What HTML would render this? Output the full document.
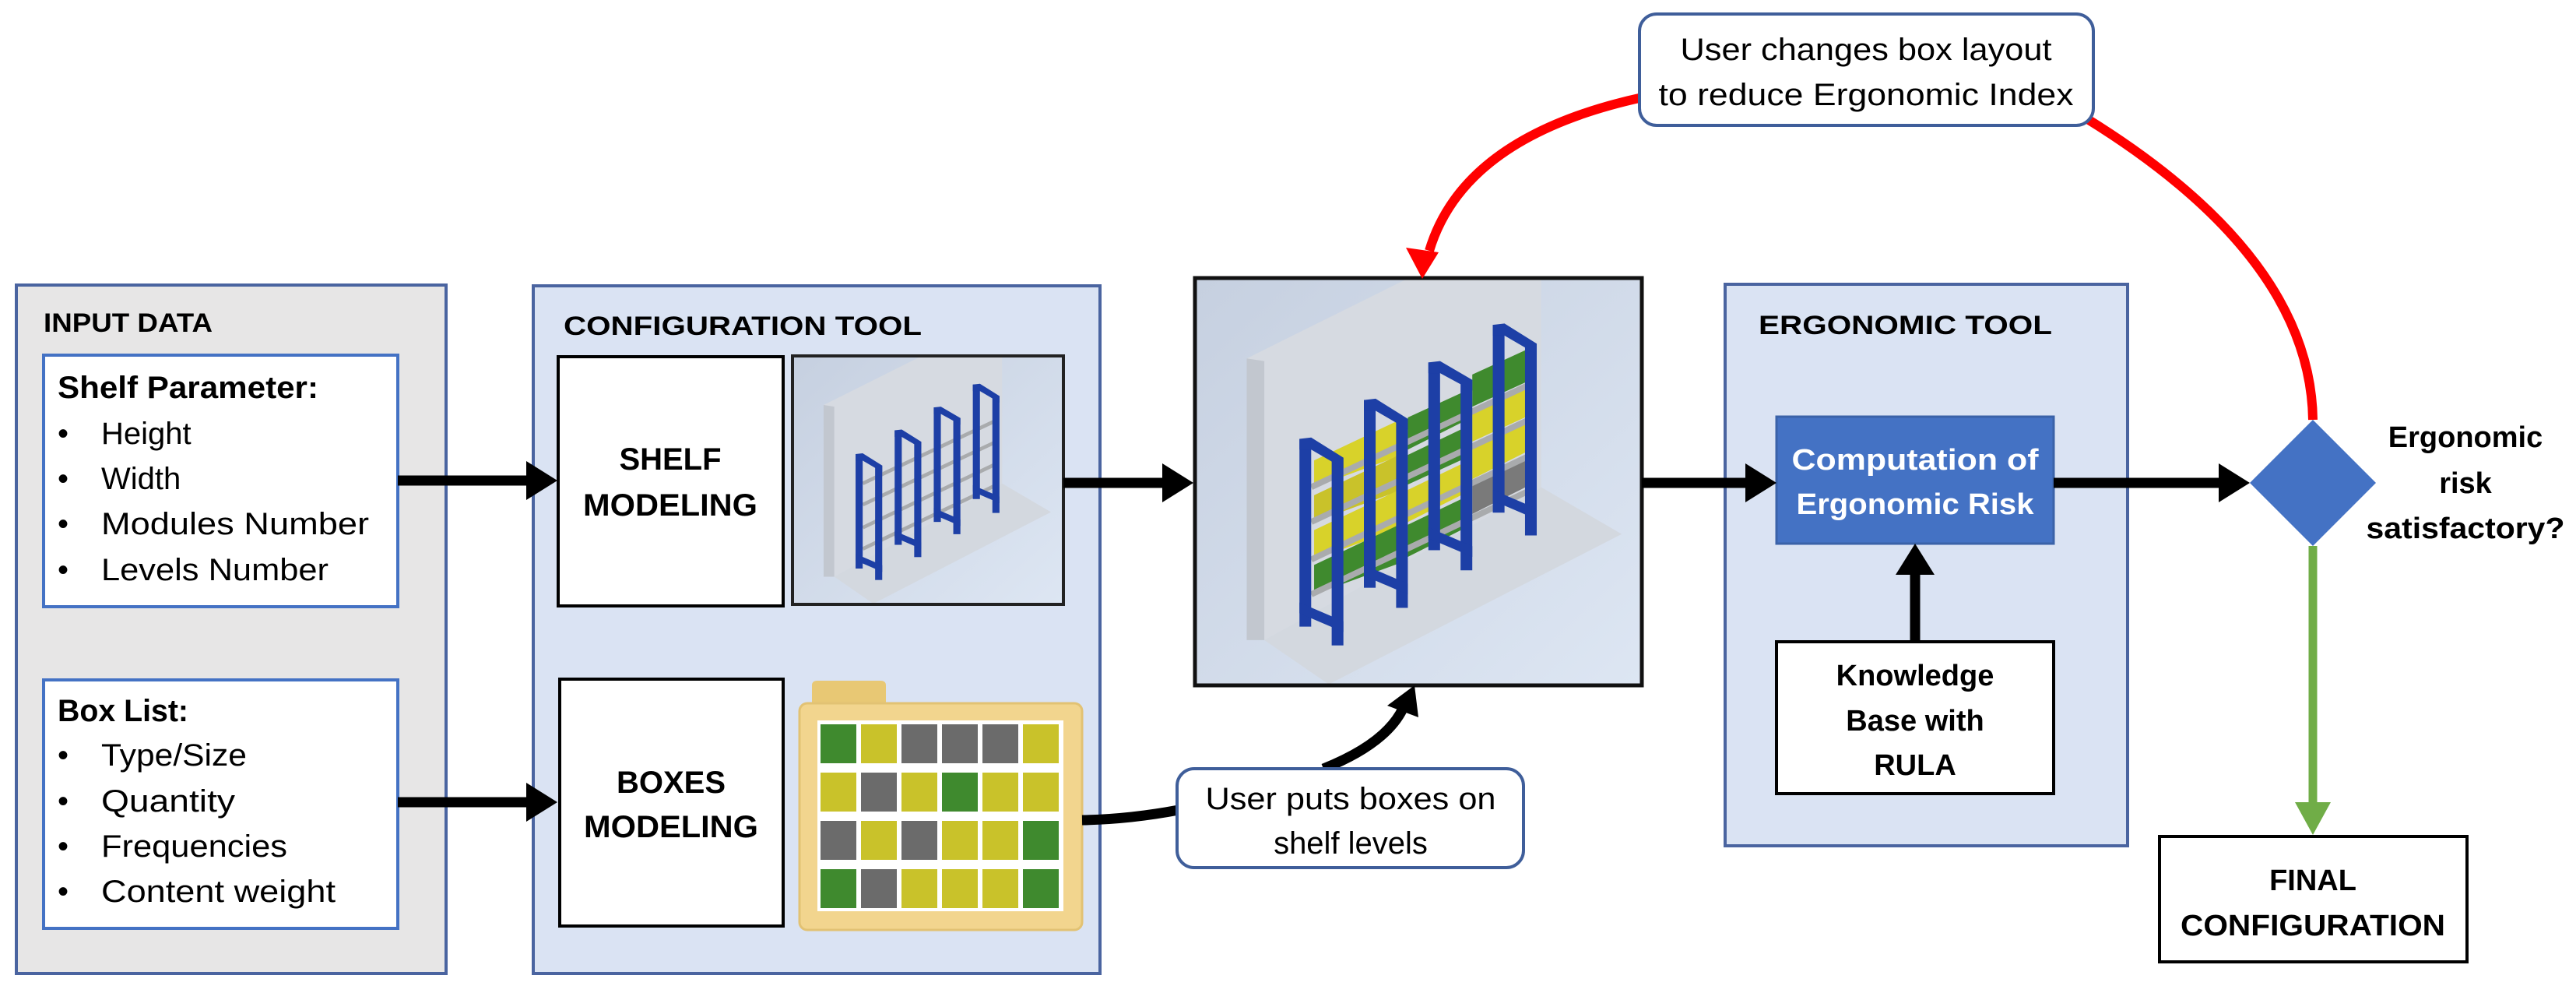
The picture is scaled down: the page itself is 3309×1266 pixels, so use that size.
<!DOCTYPE html>
<html><head><meta charset="utf-8"><style>html,body{margin:0;padding:0;background:#fff}svg{display:block}text{font-family:"Liberation Sans",Arial,sans-serif}</style></head>
<body>
<svg width="3309" height="1266" viewBox="0 0 3309 1266" xmlns="http://www.w3.org/2000/svg">
<defs>
<linearGradient id="bg" x1="0" y1="0" x2="1" y2="1"><stop offset="0" stop-color="#c6d0e0"/><stop offset="1" stop-color="#dde6f3"/></linearGradient>
<g id="scene">
<rect x="15" y="20" width="1525" height="1520" fill="url(#bg)"/>
<polygon points="250,1370 1195,800 1470,975 470,1535" fill="#d3d8df"/>
<polygon points="190,320 740,22 1195,22 1195,800 250,1370 190,1370" fill="#d6dae1"/>
<polygon points="190,320 250,330 250,1370 190,1370" fill="#c2c7cf"/>
</g>
<g id="frames" fill="#1d3fa6">
<g><rect x="370" y="620" width="40" height="700"/><rect x="480" y="690" width="40" height="700"/><polygon points="370,620 410,615 520,690 520,730 410,660 370,660"/><polygon points="370,1230 520,1300 520,1340 370,1270"/></g>
<g><rect x="590" y="475" width="40" height="700"/><rect x="700" y="545" width="40" height="705"/><polygon points="590,475 630,470 740,545 740,585 630,515 590,515"/><polygon points="590,1090 740,1160 740,1200 590,1130"/></g>
<g><rect x="810" y="335" width="40" height="700"/><rect x="920" y="400" width="40" height="710"/><polygon points="810,335 850,330 960,400 960,440 850,375 810,375"/><polygon points="810,950 960,1020 960,1060 810,990"/></g>
<g><rect x="1030" y="195" width="40" height="700"/><rect x="1140" y="265" width="40" height="715"/><polygon points="1030,195 1070,190 1180,265 1180,305 1070,235 1030,235"/><polygon points="1030,810 1180,880 1180,920 1030,850"/></g>
</g>
<g id="shelves" stroke="#a9abad" stroke-width="22">
<line x1="410" y1="800" x2="1170" y2="410"/>
<line x1="410" y1="930" x2="1170" y2="540"/>
<line x1="410" y1="1070" x2="1170" y2="675"/>
<line x1="410" y1="1200" x2="1170" y2="805"/>
</g>
</defs>

<!-- INPUT DATA -->
<rect x="21" y="366" width="552" height="884" fill="#e7e6e6" stroke="#4a64a0" stroke-width="4"/>
<text x="56" y="426" font-size="34" font-weight="bold" textLength="217" lengthAdjust="spacingAndGlyphs">INPUT DATA</text>
<rect x="56" y="456" width="455" height="323" fill="#fff" stroke="#4472c4" stroke-width="4"/>
<text x="74" y="511" font-size="40" font-weight="bold" textLength="335" lengthAdjust="spacingAndGlyphs">Shelf Parameter:</text>
<g font-size="40">
<text x="74" y="570">•</text><text x="130" y="570">Height</text>
<text x="74" y="628">•</text><text x="130" y="628">Width</text>
<text x="74" y="686">•</text><text x="130" y="686" textLength="344" lengthAdjust="spacingAndGlyphs">Modules Number</text>
<text x="74" y="745">•</text><text x="130" y="745" textLength="292" lengthAdjust="spacingAndGlyphs">Levels Number</text>
</g>
<rect x="56" y="873" width="455" height="319" fill="#fff" stroke="#4472c4" stroke-width="4"/>
<text x="74" y="926" font-size="40" font-weight="bold" textLength="168" lengthAdjust="spacingAndGlyphs">Box List:</text>
<g font-size="40">
<text x="74" y="983">•</text><text x="130" y="983" textLength="187" lengthAdjust="spacingAndGlyphs">Type/Size</text>
<text x="74" y="1042">•</text><text x="130" y="1042" textLength="172" lengthAdjust="spacingAndGlyphs">Quantity</text>
<text x="74" y="1100">•</text><text x="130" y="1100" textLength="239" lengthAdjust="spacingAndGlyphs">Frequencies</text>
<text x="74" y="1158">•</text><text x="130" y="1158" textLength="301" lengthAdjust="spacingAndGlyphs">Content weight</text>
</g>

<!-- CONFIGURATION TOOL -->
<rect x="685" y="367" width="728" height="883" fill="#dae3f3" stroke="#4a64a0" stroke-width="4"/>
<text x="724" y="430" font-size="34" font-weight="bold" textLength="460" lengthAdjust="spacingAndGlyphs">CONFIGURATION TOOL</text>
<rect x="717" y="458" width="289" height="320" fill="#fff" stroke="#000" stroke-width="4"/>
<text x="861" y="603" font-size="40" font-weight="bold" text-anchor="middle">SHELF</text>
<text x="861" y="662" font-size="40" font-weight="bold" text-anchor="middle" textLength="224" lengthAdjust="spacingAndGlyphs">MODELING</text>
<rect x="719" y="872" width="287" height="317" fill="#fff" stroke="#000" stroke-width="4"/>
<text x="862" y="1018" font-size="40" font-weight="bold" text-anchor="middle">BOXES</text>
<text x="862" y="1075" font-size="40" font-weight="bold" text-anchor="middle" textLength="224" lengthAdjust="spacingAndGlyphs">MODELING</text>

<!-- small shelf image -->
<g transform="translate(1014.6,452.8) scale(0.2282,0.21)">
<use href="#scene"/><use href="#shelves"/><use href="#frames"/>
</g>
<rect x="1018" y="457" width="348" height="319" fill="none" stroke="#222" stroke-width="4"/>

<!-- folder -->
<path d="M1043,905 L1043,880 Q1043,874 1050,874 L1131,874 Q1138,874 1138,880 L1138,905 Z" fill="#e8c874"/>
<rect x="1027" y="903" width="363" height="291" rx="10" fill="#f2d58e" stroke="#e2c273" stroke-width="3"/>
<rect x="1050" y="925" width="316" height="245" fill="#fff"/>
<g id="grid">
</g>
<g>
<!-- 6x4 cells -->
<g fill="#3f8a2e"><rect x="1054" y="930" width="46" height="50"/><rect x="1210" y="992" width="46" height="50"/><rect x="1314" y="1054" width="46" height="50"/><rect x="1054" y="1116" width="46" height="50"/><rect x="1314" y="1116" width="46" height="50"/></g>
<g fill="#c9c22a"><rect x="1106" y="930" width="46" height="50"/><rect x="1314" y="930" width="46" height="50"/><rect x="1054" y="992" width="46" height="50"/><rect x="1262" y="992" width="46" height="50"/><rect x="1314" y="992" width="46" height="50"/><rect x="1106" y="1054" width="46" height="50"/><rect x="1210" y="1054" width="46" height="50"/><rect x="1262" y="1054" width="46" height="50"/><rect x="1158" y="1116" width="46" height="50"/><rect x="1210" y="1116" width="46" height="50"/><rect x="1262" y="1116" width="46" height="50"/><rect x="1158" y="992" width="46" height="50" fill="#c9c22a"/></g>
<g fill="#6b6b6b"><rect x="1158" y="930" width="46" height="50"/><rect x="1210" y="930" width="46" height="50"/><rect x="1262" y="930" width="46" height="50"/><rect x="1106" y="992" width="46" height="50"/><rect x="1054" y="1054" width="46" height="50"/><rect x="1158" y="1054" width="46" height="50"/><rect x="1106" y="1116" width="46" height="50"/></g>
</g>

<!-- center shelf image -->
<g transform="translate(1530,350) scale(0.37628,0.34439)">
<use href="#scene"/>
<g>
<polygon points="420,700 720,545 720,680 420,800" fill="#d8d22a"/>
<polygon points="420,830 720,675 720,810 420,930" fill="#c9c22a"/>
<polygon points="420,960 720,805 720,950 420,1070" fill="#d8d22a"/>
<polygon points="420,1090 720,935 720,1080 420,1200" fill="#3f8a2e"/>
<polygon points="740,540 940,440 940,550 740,660" fill="#3f8a2e"/>
<polygon points="740,680 940,575 940,690 740,790" fill="#3f8a2e"/>
<polygon points="740,810 940,705 940,820 740,930" fill="#d8d22a"/>
<polygon points="740,940 940,835 940,950 740,1060" fill="#3f8a2e"/>
<polygon points="960,380 1160,280 1160,400 960,500" fill="#3f8a2e"/>
<polygon points="960,520 1160,420 1160,530 960,630" fill="#d8d22a"/>
<polygon points="960,650 1160,550 1160,660 960,770" fill="#d8d22a"/>
<polygon points="960,780 1160,680 1160,790 960,900" fill="#7a7a7a"/>
</g>
<use href="#shelves"/><use href="#frames"/>
</g>
<rect x="1535" y="357" width="574" height="523" fill="none" stroke="#111" stroke-width="5"/>

<!-- ERGONOMIC TOOL -->
<rect x="2216" y="365" width="517" height="721" fill="#dae3f3" stroke="#4a64a0" stroke-width="4"/>
<text x="2259" y="429" font-size="34" font-weight="bold" textLength="377" lengthAdjust="spacingAndGlyphs">ERGONOMIC TOOL</text>
<rect x="2282" y="535" width="356" height="163" fill="#4472c4" stroke="#3a62a8" stroke-width="3"/>
<text x="2460" y="603" font-size="38" font-weight="bold" fill="#fff" text-anchor="middle" textLength="317" lengthAdjust="spacingAndGlyphs">Computation of</text>
<text x="2460" y="660" font-size="38" font-weight="bold" fill="#fff" text-anchor="middle" textLength="305" lengthAdjust="spacingAndGlyphs">Ergonomic Risk</text>
<rect x="2282" y="824" width="356" height="195" fill="#fff" stroke="#000" stroke-width="4"/>
<g font-size="38" font-weight="bold" text-anchor="middle">
<text x="2460" y="880">Knowledge</text><text x="2460" y="938">Base with</text><text x="2460" y="995">RULA</text>
</g>

<!-- diamond -->
<polygon points="2971,539 3052,620 2971,701 2890,620" fill="#4472c4"/>
<g font-size="38" font-weight="bold" text-anchor="middle">
<text x="3167" y="574">Ergonomic</text><text x="3167" y="633">risk</text><text x="3167" y="691" textLength="255" lengthAdjust="spacingAndGlyphs">satisfactory?</text>
</g>

<!-- FINAL -->
<rect x="2774" y="1074" width="395" height="161" fill="#fff" stroke="#000" stroke-width="4"/>
<g font-size="38" font-weight="bold" text-anchor="middle">
<text x="2971" y="1143">FINAL</text><text x="2971" y="1201" textLength="340" lengthAdjust="spacingAndGlyphs">CONFIGURATION</text>
</g>

<!-- arrows black -->
<g stroke="#000" stroke-width="13" fill="none">
<line x1="511" y1="617" x2="680" y2="617"/>
<line x1="511" y1="1030" x2="680" y2="1030"/>
<line x1="1366" y1="620" x2="1495" y2="620"/>
<line x1="2109" y1="620" x2="2242" y2="620"/>
<line x1="2638" y1="620" x2="2852" y2="620"/>
<line x1="2460" y1="824" x2="2460" y2="735"/>
<path d="M1390,1053 Q1450,1052 1514,1040"/>
<path d="M1700,987 Q1780,955 1802,910"/>
</g>
<g fill="#000">
<polygon points="716,617 676,592 676,642"/>
<polygon points="716,1030 676,1005 676,1055"/>
<polygon points="1533,620 1493,595 1493,645"/>
<polygon points="2282,620 2242,595 2242,645"/>
<polygon points="2890,620 2850,595 2850,645"/>
<polygon points="2460,698 2435,738 2485,738"/>
<polygon points="1817,880 1782,906 1822,921"/>
</g>

<!-- green -->
<line x1="2971" y1="701" x2="2971" y2="1035" stroke="#70ad47" stroke-width="11"/>
<polygon points="2971,1072 2948,1030 2994,1030" fill="#70ad47"/>

<!-- red -->
<g stroke="#ff0000" stroke-width="12" fill="none">
<path d="M2110,125 Q1880,175 1836,322"/>
<path d="M2680,152 Q2968,330 2971,539"/>
</g>
<polygon points="1827,358 1806,318 1848,324" fill="#ff0000"/>

<!-- callouts -->
<rect x="2106" y="18" width="583" height="143" rx="22" fill="#fff" stroke="#3f5e9a" stroke-width="4"/>
<g font-size="40" text-anchor="middle">
<text x="2397" y="77" textLength="477" lengthAdjust="spacingAndGlyphs">User changes box layout</text>
<text x="2397" y="135" textLength="533" lengthAdjust="spacingAndGlyphs">to reduce Ergonomic Index</text>
</g>
<rect x="1512" y="987" width="445" height="127" rx="22" fill="#fff" stroke="#3f5e9a" stroke-width="4"/>
<g font-size="40" text-anchor="middle">
<text x="1735" y="1039" textLength="373" lengthAdjust="spacingAndGlyphs">User puts boxes on</text>
<text x="1735" y="1096">shelf levels</text>
</g>
</svg>
</body></html>
